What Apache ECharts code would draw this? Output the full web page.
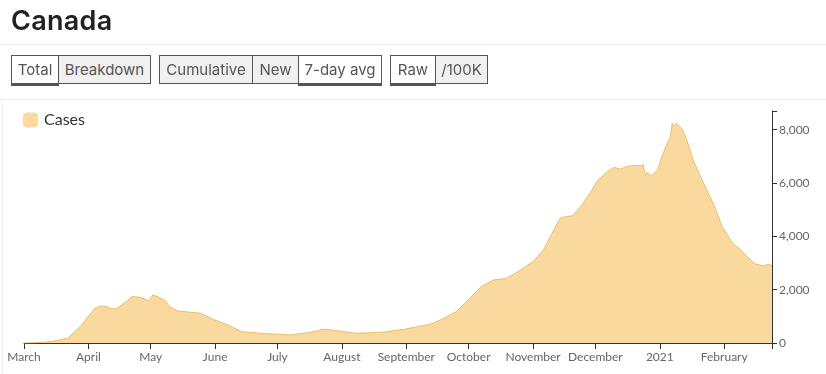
<!DOCTYPE html>
<html>
<head>
<meta charset="utf-8">
<script src="https://cdn.jsdelivr.net/npm/echarts@6/dist/echarts.min.js"></script>
<style>
  html, body { margin:0; padding:0; background:#fff; }
  body { width:826px; height:374px; position:relative; overflow:hidden; font-family: Inter, "Noto Sans", sans-serif; }
  #title { position:absolute; left:11px; top:4px; font-size:27px; font-weight:600; color:#222; letter-spacing:0.3px; }
  .hr { position:absolute; left:0; width:826px; height:1px; background:#ececec; }
  .btn { position:absolute; top:55px; height:29px; box-sizing:border-box; border:1px solid #555; background:#f0f0f0;
         color:#555; font-size:15px; line-height:27px; text-align:center; white-space:nowrap; }
  .btn.on { background:#fff; z-index:2; }
  .bar { position:absolute; top:83px; height:3px; background:#555; z-index:3; }
  #chart { position:absolute; left:0; top:0; width:826px; height:374px; }
  #frame { position:absolute; left:2px; top:99px; width:1px; height:275px; background:#f0f0f0; }
</style>
</head>
<body>
<div id="chart"></div>
<div id="title">Canada</div>
<div class="hr" style="top:44px"></div>
<div class="hr" style="top:99px"></div>
<div id="frame"></div>
<div class="btn on" style="left:11px;width:48px">Total</div>
<div class="btn" style="left:58px;width:93px">Breakdown</div>
<div class="bar" style="left:11px;width:48px"></div>
<div class="btn" style="left:159px;width:94px">Cumulative</div>
<div class="btn" style="left:252px;width:47px">New</div>
<div class="btn on" style="left:298px;width:84px">7-day avg</div>
<div class="bar" style="left:298px;width:84px"></div>
<div class="btn on" style="left:390px;width:46px">Raw</div>
<div class="btn" style="left:435px;width:53px">/100K</div>
<div class="bar" style="left:390px;width:46px"></div>
<script>
// ---- data (7-day average of new cases, Canada) ----
const dates = [
  '2020-03-01','2020-03-10','2020-03-15','2020-03-22','2020-03-28','2020-04-04','2020-04-07','2020-04-10',
  '2020-04-12','2020-04-15','2020-04-20','2020-04-22','2020-04-26','2020-04-30','2020-05-02','2020-05-05',
  '2020-05-08','2020-05-10','2020-05-14','2020-05-25','2020-05-31','2020-06-07','2020-06-14','2020-06-23',
  '2020-06-29','2020-07-07','2020-07-17','2020-07-23','2020-07-27','2020-08-02','2020-08-08','2020-08-15',
  '2020-08-21','2020-08-31','2020-09-09','2020-09-13','2020-09-19','2020-09-25','2020-09-30','2020-10-07',
  '2020-10-13','2020-10-19','2020-10-26','2020-11-01','2020-11-06','2020-11-11','2020-11-14','2020-11-17',
  '2020-11-20','2020-11-24','2020-11-28','2020-12-02','2020-12-08','2020-12-10','2020-12-13','2020-12-16',
  '2020-12-20','2020-12-23','2020-12-24','2020-12-25','2020-12-26','2020-12-28','2020-12-31','2021-01-02',
  '2021-01-05','2021-01-06','2021-01-07','2021-01-08','2021-01-09','2021-01-12','2021-01-14','2021-01-17',
  '2021-01-22','2021-01-27','2021-01-31','2021-02-05','2021-02-09','2021-02-12','2021-02-16','2021-02-20',
  '2021-02-22','2021-02-24'
];
const cases = [
  0, 20, 70, 175, 610, 1300, 1390, 1360,
  1280, 1310, 1610, 1740, 1715, 1590, 1800, 1715,
  1590, 1360, 1200, 1115, 890, 675, 425, 365,
  340, 300, 400, 515, 490, 425, 365, 390,
  410, 515, 650, 715, 925, 1175, 1550, 2115,
  2365, 2415, 2740, 3055, 3490, 4240, 4680, 4745,
  4770, 5120, 5560, 6100, 6500, 6585, 6520, 6620,
  6660, 6650, 6685, 6270, 6400, 6270, 6500, 7000,
  7560, 7690, 8250, 8125, 8250, 8000, 7620, 6875,
  6000, 5180, 4370, 3745, 3490, 3240, 2965, 2890,
  2955, 2905
];
const monthTicks = [
  '2020-03-01','2020-04-01','2020-05-01','2020-06-01','2020-07-01','2020-08-01',
  '2020-09-01','2020-10-01','2020-11-01','2020-12-01','2021-01-01','2021-02-01'
];
const monthLabels = ['March','April','May','June','July','August','September','October','November','December','2021','February'];
const yTicks = [0, 2000, 4000, 6000, 8000];
const seriesName = 'Cases';

// ---- helpers ----
function ts(s){ const p = s.split('-').map(Number); return Date.UTC(p[0], p[1]-1, p[2]); }
const tickTs = monthTicks.map(ts);
const endTs = ts(dates[dates.length-1]);
const startTs = ts(dates[0]);
const labelMap = {};
tickTs.forEach((t,i)=>{ labelMap[t] = monthLabels[i]; });

const chart = echarts.init(document.getElementById('chart'), null, {renderer:'canvas'});
const fill = '#f9d99e';
const line = '#eabf6c';
const lblFont = 'Lato, "Noto Sans", sans-serif';
chart.setOption({
  animation:false,
  grid:{ left:24, right:54, top:111, bottom:31 },
  legend:{
    left:23, top:112, padding:0, icon:'roundRect', itemWidth:15, itemHeight:15,
    data:[{ name:seriesName, itemStyle:{ color:fill, borderWidth:0 } }],
    textStyle:{ fontSize:16, color:'#333', fontFamily:lblFont, padding:[0,0,0,1] }
  },
  xAxis:{
    type:'value', min:startTs, max:endTs,
    splitLine:{show:false},
    axisLine:{ lineStyle:{ color:'#333', width:1 } },
    axisTick:{ show:true, length:6, customValues: tickTs.concat([endTs]), lineStyle:{ color:'#333' } },
    axisLabel:{ customValues: tickTs, color:'#666', fontSize:12, fontFamily:lblFont, margin:8,
      formatter:(v)=> labelMap[v] || '' }
  },
  yAxis:{
    type:'value', position:'right', min:0, max:8700, interval:2000,
    splitLine:{show:false},
    axisLine:{ show:true, lineStyle:{ color:'#333', width:1 } },
    axisTick:{ show:true, length:5, lineStyle:{ color:'#333' } },
    axisLabel:{ color:'#666', fontSize:12, fontFamily:lblFont, margin:7,
      formatter:(v)=> (yTicks.indexOf(v) >= 0 ? v.toLocaleString('en-US') : '') }
  },
  series:[{
    name:seriesName, type:'line', showSymbol:false, symbol:'none', smooth:false,
    data: dates.map((d,i)=>[ts(d), cases[i]]),
    itemStyle:{ color:fill },
    lineStyle:{ color:line, width:1 },
    areaStyle:{ color:fill, opacity:1 }
  }]
});
</script>
</body>
</html>
